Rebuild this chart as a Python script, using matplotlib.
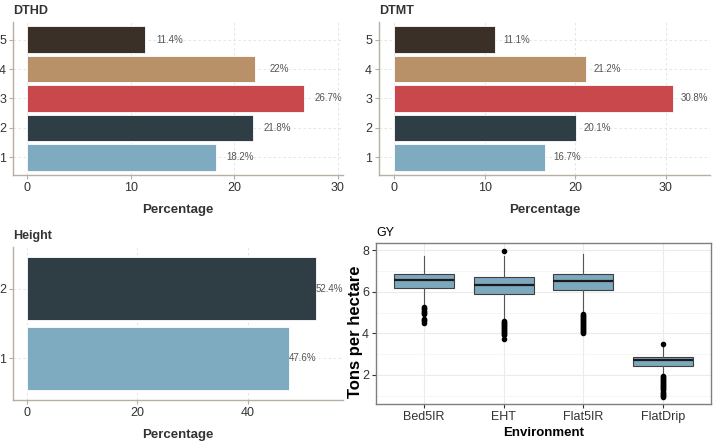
import matplotlib
matplotlib.use("Agg")
import matplotlib.pyplot as plt
import numpy as np

plt.rcParams['font.family'] = ['Liberation Sans Narrow', 'Liberation Sans', 'DejaVu Sans']

# ---------------- data ----------------
dthd_cats = ["1", "2", "3", "4", "5"]
dthd_vals = [18.2, 21.8, 26.7, 22.0, 11.4]
dthd_labels = ["18.2%", "21.8%", "26.7%", "22%", "11.4%"]

dtmt_cats = ["1", "2", "3", "4", "5"]
dtmt_vals = [16.7, 20.1, 30.8, 21.2, 11.1]
dtmt_labels = ["16.7%", "20.1%", "30.8%", "21.2%", "11.1%"]

height_cats = ["1", "2"]
height_vals = [47.6, 52.4]
height_labels = ["47.6%", "52.4%"]

bar_colors = ["#7EABC0", "#2F3D45", "#C8484B", "#B99169", "#3A3027"]

gy_envs = ["Bed5IR", "EHT", "Flat5IR", "FlatDrip"]
gy_q1 = [6.19, 5.90, 6.10, 2.44]
gy_med = [6.57, 6.33, 6.54, 2.74]
gy_q3 = [6.86, 6.73, 6.84, 2.84]
gy_whislo = [5.30, 4.67, 5.00, 1.97]
gy_whishi = [7.73, 7.71, 7.84, 3.37]
gy_fliers = [
    [5.25, 5.20, 5.15, 5.10, 5.05, 5.00, 4.95, 4.70, 4.65, 4.60, 4.50],
    [7.97, 4.60, 4.55, 4.50, 4.45, 4.40, 4.35, 4.30, 4.25, 4.20, 4.15, 4.10,
     4.05, 4.00, 3.95, 3.90, 3.72],
    [4.95, 4.90, 4.85, 4.80, 4.75, 4.70, 4.65, 4.60, 4.55, 4.50, 4.45, 4.40,
     4.35, 4.30, 4.25, 4.20, 4.15, 4.10, 4.05, 4.00],
    [3.50, 1.95, 1.90, 1.85, 1.80, 1.75, 1.70, 1.65, 1.60, 1.55, 1.50, 1.45,
     1.40, 1.35, 1.30, 1.25, 1.20, 1.15, 1.10, 1.05, 1.00, 0.95],
]

# ---------------- figure ----------------
W, H = 714, 443
fig = plt.figure(figsize=(W / 100, H / 100), dpi=100)
fig.patch.set_facecolor("white")


def rect(l, t, r, b):
    return [l / W, 1 - b / H, (r - l) / W, (b - t) / H]


spine_col = "#B7AFA3"
grid_col = "#E3E0DB"
txt_col = "#333333"
label_nudge = 2.4


def bar_panel(r, cats, vals, labels, title, xlim, xticks, title_weight):
    ax = fig.add_axes(r)
    ypos = np.arange(1, len(cats) + 1)
    ax.barh(ypos, vals, height=0.9, color=bar_colors[:len(cats)],
            edgecolor="white", linewidth=0.6, zorder=3)
    for y, v, lab in zip(ypos, vals, labels):
        ax.text(v + label_nudge, y, lab, ha="center",
                va="center", fontsize=7, color="#555555", zorder=4)
    ax.set_xlim(*xlim)
    ax.set_ylim(0.4, len(cats) + 0.6)
    ax.set_yticks(ypos)
    ax.set_yticklabels(cats)
    ax.set_xticks(xticks)
    for s in ["top", "right"]:
        ax.spines[s].set_visible(False)
    for s in ["left", "bottom"]:
        ax.spines[s].set_color(spine_col)
        ax.spines[s].set_linewidth(1.0)
    ax.tick_params(axis="both", colors=spine_col, length=3, width=0.8,
                   labelsize=9, labelcolor=txt_col, pad=2)
    ax.grid(True, color=grid_col, linestyle=(0, (3, 3)), linewidth=0.6, zorder=0)
    ax.set_axisbelow(True)
    ax.set_xlabel("Percentage", fontsize=9.5, fontweight="bold", color=txt_col,
                  labelpad=7)
    ax.set_title(title, loc="left", fontsize=9, fontweight=title_weight,
                 color=txt_col, x=0.0, pad=6)
    return ax


bar_panel(rect(13, 22, 343, 175), dthd_cats, dthd_vals, dthd_labels, "DTHD",
          (-1.35, 30.5), [0, 10, 20, 30], "bold")
bar_panel(rect(379, 22, 710, 175), dtmt_cats, dtmt_vals, dtmt_labels, "DTMT",
          (-1.66, 34.9), [0, 10, 20, 30], "bold")
bar_panel(rect(13, 247, 343, 400), height_cats, height_vals, height_labels,
          "Height", (-2.5, 57.3), [0, 20, 40], "bold")

# ---------------- GY boxplot ----------------
ax = fig.add_axes(rect(376, 243, 711, 404))
stats = []
for i, env in enumerate(gy_envs):
    stats.append(dict(label=env, q1=gy_q1[i], med=gy_med[i], q3=gy_q3[i],
                      whislo=gy_whislo[i], whishi=gy_whishi[i],
                      fliers=gy_fliers[i]))
ax.bxp(stats, positions=np.arange(1, 5), widths=0.75, patch_artist=True,
       boxprops=dict(facecolor="#7DA8BD", edgecolor="#3F3F3F", linewidth=0.8),
       medianprops=dict(color="#1A1A1A", linewidth=1.6),
       whiskerprops=dict(color="#555555", linewidth=0.8),
       capprops=dict(linewidth=0),
       flierprops=dict(marker="o", markerfacecolor="black",
                       markeredgecolor="black", markersize=3.0),
       zorder=3)
ax.set_xlim(0.4, 4.6)
ax.set_ylim(0.6, 8.35)
ax.set_yticks([2, 4, 6, 8])
ax.set_yticks([1, 3, 5, 7], minor=True)
ax.set_xticks(np.arange(1, 5))
ax.set_xticklabels(gy_envs)
ax.grid(True, which="major", color="#EBEBEB", linewidth=0.8, zorder=0)
ax.grid(True, which="minor", axis="y", color="#F3F3F3", linewidth=0.5, zorder=0)
ax.set_axisbelow(True)
for s in ax.spines.values():
    s.set_color("#7F7F7F")
    s.set_linewidth(1.0)
ax.tick_params(axis="both", which="major", colors="#333333", length=3,
               width=0.8, labelsize=9, labelcolor="#333333", pad=2)
ax.tick_params(axis="y", which="minor", length=0)
ax.set_xlabel("Environment", fontsize=9.5, fontweight="bold", color="black",
              labelpad=3)
ax.set_ylabel("Tons per hectare", fontsize=12, fontweight="bold",
              color="black", family=["Liberation Sans", "DejaVu Sans"])
ax.yaxis.set_label_coords(-0.04, 0.45)
ax.set_title("GY", loc="left", fontsize=9, color="black", pad=5)

fig.savefig("out.png", dpi=100, facecolor="white")
